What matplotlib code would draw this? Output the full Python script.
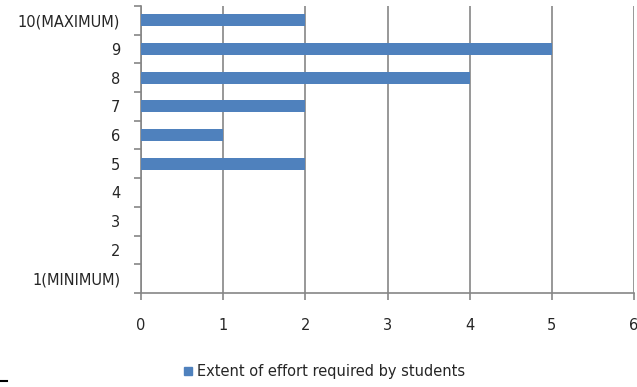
import matplotlib
matplotlib.use("Agg")
from matplotlib import pyplot as plt
from matplotlib.patches import Patch

categories = ["1(MINIMUM)", "2", "3", "4", "5", "6", "7", "8", "9", "10(MAXIMUM)"]
effort = [0, 0, 0, 0, 2, 1, 2, 4, 5, 2]
series_name = "Extent of effort required by students"

bar_color = "#4F81BD"
axis_color = "#868686"
text_color = "#262626"

fig = plt.figure(figsize=(6.37, 3.87), dpi=100)
ax = fig.add_axes([0.2214, 0.243, 0.774, 0.742])

pos = list(range(len(categories)))
ax.barh(pos, effort, height=0.42, color=bar_color, zorder=3)

ax.set_xlim(0, 6)
ax.set_ylim(-0.5, len(categories) - 0.5)
ax.set_xticks(range(0, 7))
ax.set_yticks(pos)
ax.set_yticklabels(categories)
ax.set_yticks([p + 0.5 for p in [-1] + pos], minor=True)

ax.grid(axis="x", color=axis_color, linewidth=1.2, zorder=0)
for s in ["top", "right"]:
    ax.spines[s].set_visible(False)
for s in ["left", "bottom"]:
    ax.spines[s].set_color(axis_color)
    ax.spines[s].set_linewidth(1.2)

ax.tick_params(axis="y", which="major", length=0, pad=15, labelsize=10.5, labelcolor=text_color)
ax.tick_params(axis="y", which="minor", length=5, width=1.2, color=axis_color)
ax.tick_params(axis="x", length=5, width=1.2, color=axis_color, pad=13, labelsize=10.5, labelcolor=text_color)

fig.legend(handles=[Patch(color=bar_color, label=series_name)], loc="center",
           bbox_to_anchor=(0.51, 0.04), frameon=False, fontsize=10.5,
           handlelength=0.5, handleheight=0.5, handletextpad=0.4, labelcolor=text_color)

fig.add_artist(plt.Line2D([0.0, 0.011], [0.016, 0.016], color="black", linewidth=1.5))

fig.savefig("out.png", dpi=100)
